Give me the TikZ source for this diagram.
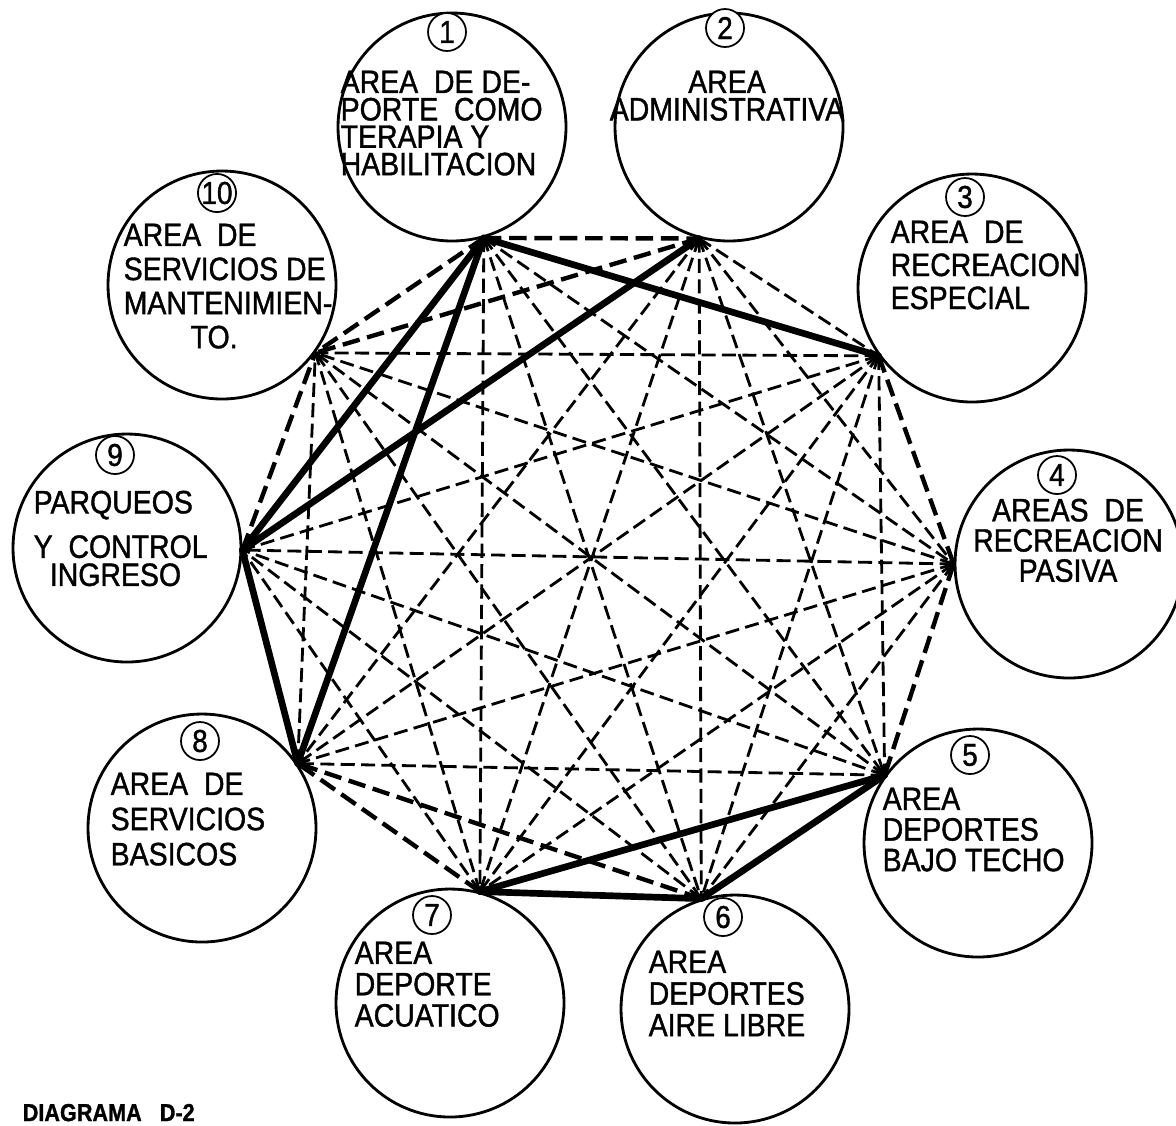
\documentclass[tikz,border=0pt]{standalone}
\usepackage{fontspec}
\setmainfont{Liberation Sans}
\newfontfamily\lettering{Liberation Sans}[FakeStretch=0.88,FakeBold=1.2]
\tikzset{
  area/.style={circle,draw,line width=0.8pt,minimum size=2.28cm,inner sep=0pt},
  num/.style={circle,draw,fill=white,line width=0.5pt,minimum size=0.38cm,inner sep=0pt,font=\lettering\fontsize{9}{9}\selectfont},
  lbl/.style={inner sep=0pt,align=left,font=\lettering\fontsize{9.2}{#1}\selectfont},
  rel/.style={line width=0.8pt,dash pattern=on 4pt off 1.8pt},
  relheavy/.style={line width=1.25pt,dash pattern=on 5pt off 2.2pt},
  relstrong/.style={line width=1.9pt,line cap=round}
}
\begin{document}
\begin{tikzpicture}
  \useasboundingbox (0,0) rectangle (11.76,-11.25);

  \node[area] (c1) at (4.52,-1.27) {};
  \node[area] (c2) at (7.29,-1.27) {};
  \node[area] (c3) at (9.72,-2.88) {};
  \node[area] (c4) at (10.69,-5.64) {};
  \node[area] (c5) at (9.78,-8.43) {};
  \node[area] (c6) at (7.35,-10.09) {};
  \node[area] (c7) at (4.50,-10.03) {};
  \node[area] (c8) at (2.02,-8.28) {};
  \node[area] (c9) at (1.27,-5.48) {};
  \node[area] (c10) at (2.22,-2.85) {};

  \node[num] (n1) at (4.47,-0.32) {1};
  \node[num] (n2) at (7.25,-0.28) {2};
  \node[num] (n3) at (9.65,-1.97) {3};
  \node[num] (n4) at (10.57,-4.75) {4};
  \node[num] (n5) at (9.70,-7.55) {5};
  \node[num] (n6) at (7.23,-9.17) {6};
  \node[num] (n7) at (4.32,-9.15) {7};
  \node[num] (n8) at (2.00,-7.41) {8};
  \node[num] (n9) at (1.15,-4.55) {9};
  \node[num] (n10) at (2.17,-1.93) {10};

  \node[lbl=7.8,anchor=north west] (t1) at (3.40,-0.70) {AREA~~DE DE-\\PORTE~~COMO\\TERAPIA Y\\HABILITACION};
  \node[lbl=7.8,anchor=north,align=center] (t2) at (7.27,-0.70) {AREA\\ADMINISTRATIVA};
  \node[lbl=9.4,anchor=north west] (t3) at (8.90,-2.20) {AREA~~DE\\RECREACION\\ESPECIAL};
  \node[lbl=8.6,anchor=north,align=center] (t4) at (10.68,-4.98) {AREAS~~DE\\RECREACION\\PASIVA};
  \node[lbl=8.7,anchor=north west] (t5) at (8.82,-7.87) {AREA\\DEPORTES\\BAJO TECHO};
  \node[lbl=9,anchor=north west] (t6) at (6.48,-9.50) {AREA\\DEPORTES\\AIRE LIBRE};
  \node[lbl=8.9,anchor=north west] (t7) at (3.54,-9.41) {AREA\\DEPORTE\\ACUATICO};
  \node[lbl=10,anchor=north west] (t8) at (1.10,-7.72) {AREA~~DE\\SERVICIOS\\BASICOS};
  \node[lbl=8,anchor=north west] (t9) at (0.33,-4.90) {PARQUEOS\\[3.5pt]Y~~CONTROL\\\hspace*{0.5em}INGRESO};
  \node[lbl=9.7,anchor=north west] (t10) at (1.23,-2.23) {AREA~~DE\\SERVICIOS DE\\MANTENIMIEN-\\\hspace*{0.67cm}TO.};

  \coordinate (v1) at (c1.-74);
  \coordinate (v2) at (c2.-105);
  \coordinate (v3) at (c3.-144);
  \coordinate (v4) at (c4.180);
  \coordinate (v5) at (c5.144);
  \coordinate (v6) at (c6.107);
  \coordinate (v7) at (c7.75);
  \coordinate (v8) at (c8.34);
  \coordinate (v9) at (c9.-1);
  \coordinate (v10) at (c10.-36);

  \foreach \a/\b in {1/4,1/5,1/6,1/7,2/3,2/4,2/5,2/6,2/7,2/8,3/5,3/6,3/7,3/8,3/9,3/10,
                     4/6,4/7,4/8,4/9,4/10,5/8,5/9,5/10,6/9,6/10,7/9,7/10,8/10}
    \draw[rel] (v\a) -- (v\b);
  \foreach \a/\b in {1/2,1/10,2/10,9/10,3/4,4/5,7/8,6/8}
    \draw[relheavy] (v\a) -- (v\b);
  \foreach \a/\b in {1/3,1/8,1/9,2/9,8/9,6/7,5/7,5/6}
    \draw[relstrong] (v\a) -- (v\b);

  \node[anchor=south west,inner sep=0pt,font=\lettering\fontsize{7}{7}\selectfont\bfseries] (title) at (0.22,-11.22) {DIAGRAMA~~~D-2};
\end{tikzpicture}
\end{document}
